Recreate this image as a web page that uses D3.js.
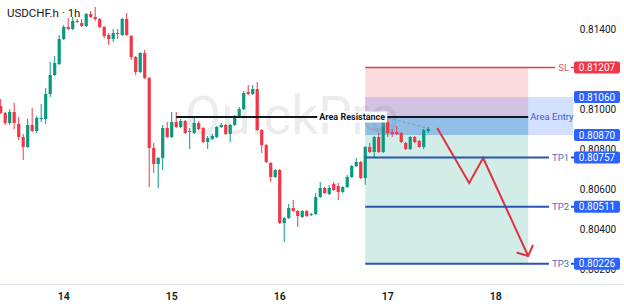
<!DOCTYPE html>
<html>
<head>
<meta charset="utf-8">
<script src="https://cdn.jsdelivr.net/npm/d3@7"></script>
<style>
  body { margin: 0; background: #fff; }
  svg { display: block; font-family: Roboto, "Noto Sans", sans-serif; }
</style>
</head>
<body>
<div id="chart"></div>
<script>
// hourly candles, first one 14 hours before the 14th 00:00
const firstHour = -14;
const open  = [0.81015,0.80980,0.80930,0.80985,0.80925,0.80860,0.80810,0.80920,0.80890,0.80950,
               0.80950,0.81075,0.81170,0.81225,0.81350,0.81410,0.81400,0.81440,0.81430,0.81415,
               0.81475,0.81460,0.81450,0.81410,0.81370,0.81350,0.81380,0.81370,0.81450,0.81365,
               0.81260,0.81185,0.81280,0.81155,0.80805,0.80725,0.80755,0.80905,0.80860,0.80935,
               0.80910,0.80940,0.80885,0.80880,0.80930,0.80905,0.80835,0.80850,0.80860,0.80910,
               0.80920,0.80875,0.80920,0.80960,0.81000,0.81085,0.81075,0.81100,0.80895,0.80820,
               0.80730,0.80660,0.80695,0.80430,0.80455,0.80505,0.80490,0.80460,0.80490,0.80470,
               0.80475,0.80560,0.80605,0.80575,0.80625,0.80615,0.80585,0.80610,0.80660,0.80715,
               0.80735,0.80655,0.80810,0.80785,0.80860,0.80785,0.80935,0.80885,0.80885,0.80880,
               0.80830,0.80800,0.80860,0.80840,0.80810,0.80890];
const high  = [0.81050,0.80985,0.81000,0.81030,0.80960,0.80875,0.80950,0.81005,0.80965,0.81025,
               0.81105,0.81235,0.81265,0.81370,0.81420,0.81455,0.81460,0.81450,0.81450,0.81480,
               0.81490,0.81510,0.81455,0.81415,0.81380,0.81400,0.81400,0.81455,0.81480,0.81370,
               0.81265,0.81285,0.81295,0.81160,0.80830,0.80760,0.80920,0.80935,0.80985,0.80985,
               0.80950,0.80945,0.80905,0.80960,0.80940,0.80910,0.80865,0.80875,0.80915,0.80930,
               0.80925,0.80925,0.80970,0.81010,0.81090,0.81120,0.81120,0.81135,0.80900,0.80825,
               0.80735,0.80700,0.80700,0.80460,0.80525,0.80545,0.80495,0.80495,0.80495,0.80480,
               0.80580,0.80635,0.80610,0.80620,0.80635,0.80630,0.80615,0.80670,0.80720,0.80755,
               0.80740,0.80815,0.80830,0.80865,0.80880,0.80960,0.80960,0.80900,0.80915,0.80885,
               0.80835,0.80865,0.80865,0.80845,0.80900,0.80910];
const low   = [0.80975,0.80920,0.80920,0.80900,0.80845,0.80745,0.80805,0.80885,0.80880,0.80935,
               0.80925,0.81060,0.81165,0.81220,0.81345,0.81395,0.81395,0.81430,0.81410,0.81410,
               0.81455,0.81440,0.81405,0.81355,0.81320,0.81335,0.81350,0.81365,0.81365,0.81245,
               0.81170,0.81180,0.81150,0.80610,0.80680,0.80605,0.80695,0.80855,0.80855,0.80905,
               0.80905,0.80875,0.80800,0.80875,0.80895,0.80830,0.80800,0.80845,0.80855,0.80905,
               0.80870,0.80835,0.80915,0.80955,0.80995,0.81070,0.81070,0.80890,0.80780,0.80730,
               0.80635,0.80655,0.80425,0.80335,0.80450,0.80485,0.80410,0.80455,0.80460,0.80465,
               0.80470,0.80555,0.80575,0.80570,0.80590,0.80545,0.80580,0.80605,0.80655,0.80710,
               0.80650,0.80620,0.80780,0.80755,0.80780,0.80780,0.80860,0.80860,0.80870,0.80830,
               0.80795,0.80795,0.80830,0.80805,0.80800,0.80880];
const close = [0.80980,0.80930,0.80985,0.80930,0.80860,0.80810,0.80920,0.80890,0.80955,0.80955,
               0.81075,0.81170,0.81230,0.81350,0.81410,0.81400,0.81440,0.81435,0.81415,0.81475,
               0.81460,0.81450,0.81410,0.81365,0.81350,0.81380,0.81375,0.81450,0.81370,0.81260,
               0.81185,0.81280,0.81155,0.80805,0.80725,0.80755,0.80905,0.80860,0.80935,0.80910,
               0.80940,0.80880,0.80890,0.80930,0.80900,0.80835,0.80855,0.80865,0.80910,0.80920,
               0.80875,0.80920,0.80960,0.81000,0.81080,0.81075,0.81100,0.80895,0.80820,0.80735,
               0.80660,0.80695,0.80430,0.80455,0.80505,0.80490,0.80465,0.80490,0.80465,0.80475,
               0.80560,0.80605,0.80580,0.80605,0.80595,0.80585,0.80610,0.80660,0.80715,0.80735,
               0.80655,0.80810,0.80785,0.80860,0.80785,0.80950,0.80880,0.80875,0.80875,0.80835,
               0.80800,0.80860,0.80835,0.80810,0.80895,0.80900];

const dayTicks = [14, 15, 16, 17, 18];
const priceTicks = [0.814, 0.812, 0.810, 0.808, 0.806, 0.804, 0.802];

// trade setup
const levelNames  = ["SL", "TP1", "TP2", "TP3"];
const levelPrices = [0.81207, 0.80757, 0.80511, 0.80226];
const entryPrices = [0.81060, 0.80870];
const resistancePrice = 0.80960;
const setupHours = [67, 103.2, 113.2];   // zone start, zone end, entry box end
const resistanceHours = [25, 103.2];
const arrowHours  = [83, 90.1, 93.2, 103.2];
const arrowPrices = [0.80905, 0.80630, 0.80755, 0.80265];
const dashHours  = [72.1, 80.7];
const dashPrices = [0.80955, 0.80905];

const W = 624, H = 306;
const base = Date.UTC(2024, 5, 14);
const hr = h => new Date(base + h * 36e5);

const x = d3.scaleUtc().domain([hr(-14.155), hr(124.5)]).range([0, W]);
const y = d3.scaleLinear().domain([0.80125, 0.81545]).range([284, 0]);

const up = "#089981", down = "#f23645";
const tagX = 574, tagW = 46;

const svg = d3.select("#chart").append("svg")
    .attr("width", W).attr("height", H);

// watermark
svg.append("text")
    .attr("x", 185).attr("y", 134)
    .style("font-size", "53px")
    .style("fill", "rgba(120,123,134,0.14)")
    .text("QuickPro");

// position zones
const zx0 = x(hr(setupHours[0])), zx1 = x(hr(setupHours[1]));
svg.append("rect")
    .attr("x", zx0).attr("width", zx1 - zx0)
    .attr("y", y(levelPrices[0])).attr("height", y(resistancePrice) - y(levelPrices[0]))
    .style("fill", "rgba(242,54,69,0.18)");
svg.append("rect")
    .attr("x", zx0).attr("width", zx1 - zx0)
    .attr("y", y(resistancePrice)).attr("height", y(levelPrices[3]) - y(resistancePrice))
    .style("fill", "rgba(8,153,129,0.18)");
svg.append("rect")
    .attr("x", zx0).attr("width", zx1 - zx0)
    .attr("y", y(resistancePrice)).attr("height", y(entryPrices[1]) - y(resistancePrice))
    .style("fill", "rgba(30,120,200,0.2)");
// area entry box
svg.append("rect")
    .attr("x", zx0).attr("width", x(hr(setupHours[2])) - zx0)
    .attr("y", y(entryPrices[0])).attr("height", y(entryPrices[1]) - y(entryPrices[0]))
    .style("fill", "rgba(41,98,255,0.2)");

// candles
const candles = open.map((o, i) => ({
    t: hr(firstHour + i), o: o, h: high[i], l: low[i], c: close[i]
}));
const g = svg.append("g");
const cg = g.selectAll(".candle").data(candles).enter().append("g").attr("class", "candle");
cg.append("line")
    .attr("x1", d => x(d.t)).attr("x2", d => x(d.t))
    .attr("y1", d => y(d.h)).attr("y2", d => y(d.l))
    .style("stroke", d => d.c >= d.o ? up : down)
    .style("stroke-width", 1);
cg.append("rect")
    .attr("x", d => x(d.t) - 1.6).attr("width", 3.2)
    .attr("y", d => y(Math.max(d.o, d.c)))
    .attr("height", d => Math.max(1, Math.abs(y(d.o) - y(d.c))))
    .style("fill", d => d.c >= d.o ? up : down);

// grey anchor ring and dashed trend
svg.append("circle")
    .attr("cx", x(hr(69.2))).attr("cy", y(0.8094)).attr("r", 9)
    .style("fill", "none").style("stroke", "rgba(150,152,160,0.35)").style("stroke-width", 3);
svg.append("line")
    .attr("x1", x(hr(dashHours[0]))).attr("y1", y(dashPrices[0]))
    .attr("x2", x(hr(dashHours[1]))).attr("y2", y(dashPrices[1]))
    .style("stroke", "#9598a1").style("stroke-width", 1).style("stroke-dasharray", "3,2");

// resistance line
const ry = y(resistancePrice);
svg.append("line")
    .attr("x1", x(hr(resistanceHours[0]))).attr("x2", x(hr(resistanceHours[1])))
    .attr("y1", ry).attr("y2", ry)
    .style("stroke", "#131722").style("stroke-width", 2);
const rmid = (x(hr(resistanceHours[0])) + x(hr(resistanceHours[1]))) / 2;
const rlab = svg.append("text")
    .attr("x", rmid).attr("y", ry).attr("dy", "0.35em")
    .attr("text-anchor", "middle")
    .style("font-size", "9px").style("font-weight", 700).style("fill", "#131722")
    .text("Area Resistance");
const rb = rlab.node().getBBox();
svg.insert("rect", function() { return rlab.node(); })
    .attr("x", rb.x - 2).attr("y", ry - 5.5).attr("width", rb.width + 4).attr("height", 11)
    .style("fill", "#fff");
svg.append("text")
    .attr("x", zx1 + 2).attr("y", ry).attr("dy", "0.35em")
    .style("font-size", "9.5px").style("fill", "#3b5fc0")
    .text("Area Entry");

// arrow
svg.append("defs").append("marker")
    .attr("id", "head").attr("viewBox", "-12 -10 14 20")
    .attr("refX", 0).attr("refY", 0)
    .attr("markerWidth", 14).attr("markerHeight", 20)
    .attr("markerUnits", "userSpaceOnUse")
    .attr("orient", "auto")
  .append("path")
    .attr("d", "M-8,-9L0,0L-8,9")
    .style("fill", "none").style("stroke", "#e0323f").style("stroke-width", 2);
svg.append("path")
    .datum(arrowHours.map((h, i) => [x(hr(h)), y(arrowPrices[i])]))
    .attr("d", d3.line())
    .attr("marker-end", "url(#head)")
    .style("fill", "none").style("stroke", "#e0323f").style("stroke-width", 2);

// price axis labels
svg.append("g").selectAll("text").data(priceTicks).enter().append("text")
    .attr("x", tagX + tagW / 2 + 1).attr("y", d => y(d)).attr("dy", "0.35em")
    .attr("text-anchor", "middle")
    .style("font-size", "10px").style("fill", "#131722")
    .text(d => d.toFixed(5));

// SL / TP lines with tags
levelNames.forEach(function(name, i) {
    const ly = y(levelPrices[i]);
    const col = i === 0 ? "#e0414f" : "#2b54b0";
    svg.append("line")
        .attr("x1", zx0).attr("x2", tagX).attr("y1", ly).attr("y2", ly)
        .style("stroke", col).style("stroke-width", i === 0 ? 1.5 : 2);
    const t = svg.append("text")
        .attr("x", tagX - 5).attr("y", ly).attr("dy", "0.35em")
        .attr("text-anchor", "end")
        .style("font-size", "9.5px").style("fill", i === 0 ? "#e2606b" : "#4a6cc4")
        .text(name);
    const b = t.node().getBBox();
    svg.insert("rect", function() { return t.node(); })
        .attr("x", b.x - 3).attr("y", ly - 5).attr("width", b.width + 5).attr("height", 10)
        .style("fill", "#fff");
});

// price tags
const tags = [
    { p: levelPrices[0], c: "#f23645" },
    { p: entryPrices[0], c: "#2962ff" },
    { p: entryPrices[1], c: "#2962ff" },
    { p: levelPrices[1], c: "#2962ff" },
    { p: levelPrices[2], c: "#2962ff" },
    { p: levelPrices[3], c: "#2962ff" }
];
const tg = svg.append("g").selectAll("g").data(tags).enter().append("g");
tg.append("rect")
    .attr("x", tagX).attr("width", tagW)
    .attr("y", d => y(d.p) - 6).attr("height", 12).attr("rx", 2)
    .style("fill", d => d.c);
tg.append("text")
    .attr("x", tagX + tagW / 2).attr("y", d => y(d.p)).attr("dy", "0.35em")
    .attr("text-anchor", "middle")
    .style("font-size", "10px").style("fill", "#fff")
    .text(d => d.p.toFixed(5));

// time axis
svg.append("line")
    .attr("x1", 0).attr("x2", W).attr("y1", 284.5).attr("y2", 284.5)
    .style("stroke", "#e0e3eb");
svg.append("g").selectAll("text").data(dayTicks).enter().append("text")
    .attr("x", d => x(hr((d - 14) * 24))).attr("y", 300)
    .attr("text-anchor", "middle")
    .style("font-size", "10.5px").style("font-weight", 600).style("fill", "#131722")
    .text(d => d);

// title
svg.append("text")
    .attr("x", 7).attr("y", 17)
    .style("font-size", "11.5px").style("fill", "#131722")
    .text("USDCHF.h · 1h");
</script>
</body>
</html>
